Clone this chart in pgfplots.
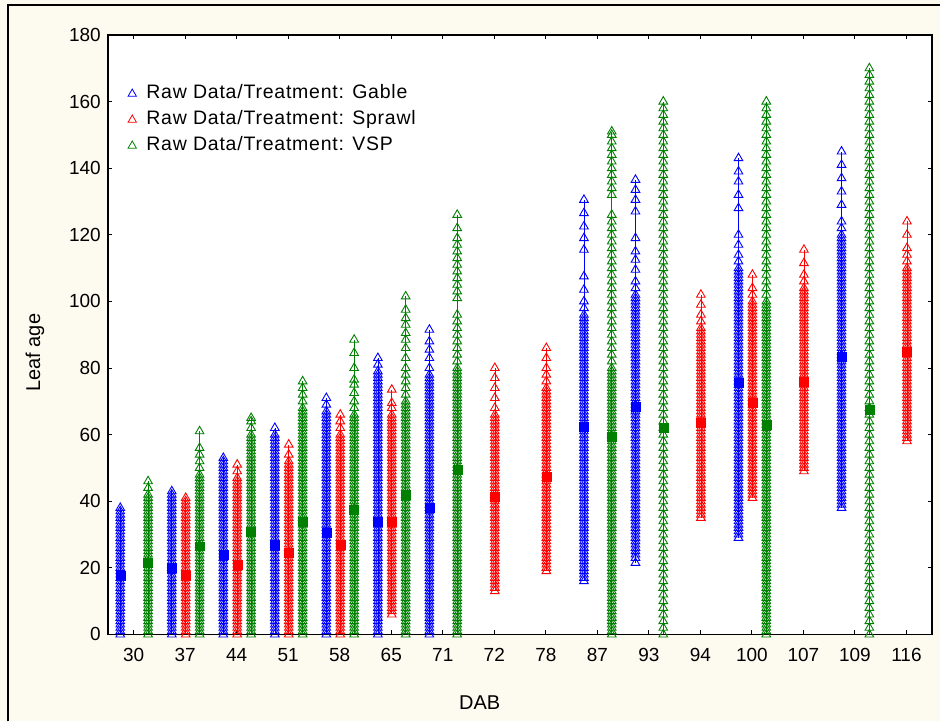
\documentclass[border=0pt]{standalone}
\usepackage{pgfplots}
\pgfplotsset{compat=1.18}
\usepackage{fontspec}
\setmainfont{Liberation Sans}
\definecolor{cream}{RGB}{253,250,240}
\definecolor{cb}{RGB}{0,0,255}
\definecolor{cr}{RGB}{255,0,0}
\definecolor{cg}{RGB}{0,128,0}
\newcommand\col[3]{\addplot[#1] table[header=false,row sep=\\,x expr=#2,y index=0]{#3\\};}
\pgfplotsset{
 colb/.style={cb, line width=0.6pt, mark=triangle, mark size=5pt, mark options={solid, line width=0.9pt}, forget plot},
 colr/.style={cr, line width=0.6pt, mark=triangle, mark size=5pt, mark options={solid, line width=0.9pt}, forget plot},
 colg/.style={cg, line width=0.6pt, mark=triangle, mark size=5pt, mark options={solid, line width=0.9pt}, forget plot},
}
\begin{document}
\begin{tikzpicture}
\fill[cream] (0,0) rectangle (941pt,722pt);
\draw[black, line width=1.6pt] (8pt,0pt) -- (8pt,717pt) -- (941pt,717pt);
\begin{axis}[
 at={(108pt,87pt)}, anchor=south west,
 scale only axis, width=825pt, height=600pt,
 xmin=-0.5, xmax=15.5, ymin=0, ymax=180,
 axis background/.style={fill=white},
 axis line style={line width=1.5pt},
 tick align=inside, major tick length=4pt,
 every tick/.style={black, line width=1pt},
 xtick={0,1,2,3,4,5,6,7,8,9,10,11,12,13,14,15},
 xticklabels={30,37,44,51,58,65,71,72,78,87,93,94,100,107,109,116},
 ytick={0,20,40,60,80,100,120,140,160,180},
 /pgf/number format/assume math mode=true,
 tick label style={font=\fontsize{19}{19}\selectfont},
 xticklabel style={anchor=north, inner sep=0pt, yshift=-14pt},
 yticklabel style={anchor=east, inner sep=0pt, xshift=-7pt},
 xlabel={DAB}, ylabel={Leaf age},
 label style={font=\fontsize{20}{20}\selectfont},
 xlabel style={at={(axis description cs:0.451,-0.113)}, anchor=center},
 ylabel style={at={(axis description cs:-0.0885,0.47)}, anchor=center},
 legend style={draw=none, fill=none, at={(axis description cs:0.0206,0.9213)}, anchor=north west,
   font={\fontsize{19.5}{19.5}\selectfont\addfontfeatures{LetterSpace=4}}, nodes={inner sep=1pt, text height=13pt, text depth=4pt}, row sep=7pt, column sep=9pt},
 legend cell align=left,
]
\addlegendimage{only marks, mark=triangle, cb, mark size=4.8pt, mark options={line width=0.8pt}}
\addlegendentry{Raw Data/Treatment: Gable}
\addlegendimage{only marks, mark=triangle, cr, mark size=4.8pt, mark options={line width=0.8pt}}
\addlegendentry{Raw Data/Treatment: Sprawl}
\addlegendimage{only marks, mark=triangle, cg, mark size=4.8pt, mark options={line width=0.8pt}}
\addlegendentry{Raw Data/Treatment: VSP}

% ---- Gable (blue)
\col{colb}{-0.26}{0\\1\\2\\3\\4\\5\\6\\7\\8\\9\\10\\11\\12\\13\\14\\15\\16\\17\\18\\19\\20\\21\\22\\23\\24\\25\\26\\27\\28\\29\\30\\31\\32\\33\\34\\35\\36\\37\\38}
\col{colb}{0.74}{0\\1\\2\\3\\4\\5\\6\\7\\8\\9\\10\\11\\12\\13\\14\\15\\16\\17\\18\\19\\20\\21\\22\\23\\24\\25\\26\\27\\28\\29\\30\\31\\32\\33\\34\\35\\36\\37\\38\\39\\40\\41\\42\\43}
\col{colb}{1.74}{0\\1\\2\\3\\4\\5\\6\\7\\8\\9\\10\\11\\12\\13\\14\\15\\16\\17\\18\\19\\20\\21\\22\\23\\24\\25\\26\\27\\28\\29\\30\\31\\32\\33\\34\\35\\36\\37\\38\\39\\40\\41\\42\\43\\44\\45\\46\\47\\48\\49\\50\\51\\52\\53}
\col{colb}{2.74}{0\\1\\2\\3\\4\\5\\6\\7\\8\\9\\10\\11\\12\\13\\14\\15\\16\\17\\18\\19\\20\\21\\22\\23\\24\\25\\26\\27\\28\\29\\30\\31\\32\\33\\34\\35\\36\\37\\38\\39\\40\\41\\42\\43\\44\\45\\46\\47\\48\\49\\50\\51\\52\\53\\54\\55\\56\\57\\58\\59\\60\\62}
\col{colb}{3.74}{0\\1\\2\\3\\4\\5\\6\\7\\8\\9\\10\\11\\12\\13\\14\\15\\16\\17\\18\\19\\20\\21\\22\\23\\24\\25\\26\\27\\28\\29\\30\\31\\32\\33\\34\\35\\36\\37\\38\\39\\40\\41\\42\\43\\44\\45\\46\\47\\48\\49\\50\\51\\52\\53\\54\\55\\56\\57\\58\\59\\60\\61\\62\\63\\64\\65\\66\\67\\69\\71}
\col{colb}{4.74}{0\\1\\2\\3\\4\\5\\6\\7\\8\\9\\10\\11\\12\\13\\14\\15\\16\\17\\18\\19\\20\\21\\22\\23\\24\\25\\26\\27\\28\\29\\30\\31\\32\\33\\34\\35\\36\\37\\38\\39\\40\\41\\42\\43\\44\\45\\46\\47\\48\\49\\50\\51\\52\\53\\54\\55\\56\\57\\58\\59\\60\\61\\62\\63\\64\\65\\66\\67\\68\\69\\70\\71\\72\\73\\74\\75\\76\\77\\78\\79\\81\\83}
\col{colb}{5.74}{0\\1\\2\\3\\4\\5\\6\\7\\8\\9\\10\\11\\12\\13\\14\\15\\16\\17\\18\\19\\20\\21\\22\\23\\24\\25\\26\\27\\28\\29\\30\\31\\32\\33\\34\\35\\36\\37\\38\\39\\40\\41\\42\\43\\44\\45\\46\\47\\48\\49\\50\\51\\52\\53\\54\\55\\56\\57\\58\\59\\60\\61\\62\\63\\64\\65\\66\\67\\68\\69\\70\\71\\72\\73\\74\\75\\76\\77\\78\\80\\83\\85.5\\88\\91.5}
\col{colb}{8.74}{16\\17\\18\\19\\20\\21\\22\\23\\24\\25\\26\\27\\28\\29\\30\\31\\32\\33\\34\\35\\36\\37\\38\\39\\40\\41\\42\\43\\44\\45\\46\\47\\48\\49\\50\\51\\52\\53\\54\\55\\56\\57\\58\\59\\60\\61\\62\\63\\64\\65\\66\\67\\68\\69\\70\\71\\72\\73\\74\\75\\76\\77\\78\\79\\80\\81\\82\\83\\84\\85\\86\\87\\88\\89\\90\\91\\92\\93\\94\\95\\96\\98\\100\\103.5\\107.5\\115.5\\119\\122.5\\126.5\\130.5}
\col{colb}{9.74}{21.5\\23\\24\\25\\26\\27\\28\\29\\30\\31\\32\\33\\34\\35\\36\\37\\38\\39\\40\\41\\42\\43\\44\\45\\46\\47\\48\\49\\50\\51\\52\\53\\54\\55\\56\\57\\58\\59\\60\\61\\62\\63\\64\\65\\66\\67\\68\\69\\70\\71\\72\\73\\74\\75\\76\\77\\78\\79\\80\\81\\82\\83\\84\\85\\86\\87\\88\\89\\90\\91\\92\\93\\94\\95\\96\\97\\98\\99\\100\\101\\102\\104\\106\\109.5\\112.5\\115\\119\\127\\130.5\\133.5\\136.5}
\col{colb}{11.74}{29\\30\\31\\32\\33\\34\\35\\36\\37\\38\\39\\40\\41\\42\\43\\44\\45\\46\\47\\48\\49\\50\\51\\52\\53\\54\\55\\56\\57\\58\\59\\60\\61\\62\\63\\64\\65\\66\\67\\68\\69\\70\\71\\72\\73\\74\\75\\76\\77\\78\\79\\80\\81\\82\\83\\84\\85\\86\\87\\88\\89\\90\\91\\92\\93\\94\\95\\96\\97\\98\\99\\100\\101\\102\\103\\104\\105\\106\\107\\108\\109\\110\\112\\114\\117\\120\\128\\132\\136\\139\\143}
\col{colb}{13.74}{38\\39\\40\\41\\42\\43\\44\\45\\46\\47\\48\\49\\50\\51\\52\\53\\54\\55\\56\\57\\58\\59\\60\\61\\62\\63\\64\\65\\66\\67\\68\\69\\70\\71\\72\\73\\74\\75\\76\\77\\78\\79\\80\\81\\82\\83\\84\\85\\86\\87\\88\\89\\90\\91\\92\\93\\94\\95\\96\\97\\98\\99\\100\\101\\102\\103\\104\\105\\106\\107\\108\\109\\110\\111\\112\\113\\114\\115\\116\\117\\118\\119\\120\\122\\124\\129\\133\\137\\141\\145}

% ---- Sprawl (red)
\col{colr}{1.01}{0\\1\\2\\3\\4\\5\\6\\7\\8\\9\\10\\11\\12\\13\\14\\15\\16\\17\\18\\19\\20\\21\\22\\23\\24\\25\\26\\27\\28\\29\\30\\31\\32\\33\\34\\35\\36\\37\\38\\39\\40\\41}
\col{colr}{2.01}{0\\1\\2\\3\\4\\5\\6\\7\\8\\9\\10\\11\\12\\13\\14\\15\\16\\17\\18\\19\\20\\21\\22\\23\\24\\25\\26\\27\\28\\29\\30\\31\\32\\33\\34\\35\\36\\37\\38\\39\\40\\41\\42\\43\\44\\45\\46\\47\\49\\51}
\col{colr}{3.01}{0\\1\\2\\3\\4\\5\\6\\7\\8\\9\\10\\11\\12\\13\\14\\15\\16\\17\\18\\19\\20\\21\\22\\23\\24\\25\\26\\27\\28\\29\\30\\31\\32\\33\\34\\35\\36\\37\\38\\39\\40\\41\\42\\43\\44\\45\\46\\47\\48\\49\\50\\51\\52\\54\\57}
\col{colr}{4.01}{0\\1\\2\\3\\4\\5\\6\\7\\8\\9\\10\\11\\12\\13\\14\\15\\16\\17\\18\\19\\20\\21\\22\\23\\24\\25\\26\\27\\28\\29\\30\\31\\32\\33\\34\\35\\36\\37\\38\\39\\40\\41\\42\\43\\44\\45\\46\\47\\48\\49\\50\\51\\52\\53\\54\\55\\56\\57\\58\\59\\60\\62\\64\\66}
\col{colr}{5.01}{6\\7\\8\\9\\10\\11\\12\\13\\14\\15\\16\\17\\18\\19\\20\\21\\22\\23\\24\\25\\26\\27\\28\\29\\30\\31\\32\\33\\34\\35\\36\\37\\38\\39\\40\\41\\42\\43\\44\\45\\46\\47\\48\\49\\50\\51\\52\\53\\54\\55\\56\\57\\58\\59\\60\\61\\62\\63\\64\\65\\66\\68\\69.5\\73.5}
\col{colr}{7.01}{13\\14\\15\\16\\17\\18\\19\\20\\21\\22\\23\\24\\25\\26\\27\\28\\29\\30\\31\\32\\33\\34\\35\\36\\37\\38\\39\\40\\41\\42\\43\\44\\45\\46\\47\\48\\49\\50\\51\\52\\53\\54\\55\\56\\57\\58\\59\\60\\61\\62\\63\\64\\65\\66\\68\\71\\74\\77\\80}
\col{colr}{8.01}{19\\20\\21\\22\\23\\24\\25\\26\\27\\28\\29\\30\\31\\32\\33\\34\\35\\36\\37\\38\\39\\40\\41\\42\\43\\44\\45\\46\\47\\48\\49\\50\\51\\52\\53\\54\\55\\56\\57\\58\\59\\60\\61\\62\\63\\64\\65\\66\\67\\68\\69\\70\\71\\72\\73\\74\\76\\78\\80\\83\\86}
\col{colr}{11.01}{35\\36\\37\\38\\39\\40\\41\\42\\43\\44\\45\\46\\47\\48\\49\\50\\51\\52\\53\\54\\55\\56\\57\\58\\59\\60\\61\\62\\63\\64\\65\\66\\67\\68\\69\\70\\71\\72\\73\\74\\75\\76\\77\\78\\79\\80\\81\\82\\83\\84\\85\\86\\87\\88\\89\\90\\91\\92\\94\\96\\99\\102}
\col{colr}{12.01}{41\\42\\43\\44\\45\\46\\47\\48\\49\\50\\51\\52\\53\\54\\55\\56\\57\\58\\59\\60\\61\\62\\63\\64\\65\\66\\67\\68\\69\\70\\71\\72\\73\\74\\75\\76\\77\\78\\79\\80\\81\\82\\83\\84\\85\\86\\87\\88\\89\\90\\91\\92\\93\\94\\95\\96\\97\\98\\99\\100\\102\\104\\108}
\col{colr}{13.01}{49\\50\\51\\52\\53\\54\\55\\56\\57\\58\\59\\60\\61\\62\\63\\64\\65\\66\\67\\68\\69\\70\\71\\72\\73\\74\\75\\76\\77\\78\\79\\80\\81\\82\\83\\84\\85\\86\\87\\88\\89\\90\\91\\92\\93\\94\\95\\96\\97\\98\\99\\100\\101\\102\\103\\104\\106\\108\\111.5\\115.5}
\col{colr}{15.01}{58\\59\\60\\61\\62\\63\\64\\65\\66\\67\\68\\69\\70\\71\\72\\73\\74\\75\\76\\77\\78\\79\\80\\81\\82\\83\\84\\85\\86\\87\\88\\89\\90\\91\\92\\93\\94\\95\\96\\97\\98\\99\\100\\101\\102\\103\\104\\105\\106\\107\\108\\109\\110\\112\\114\\116\\120\\124}

% ---- VSP (green)
\col{colg}{0.28}{0\\1\\2\\3\\4\\5\\6\\7\\8\\9\\10\\11\\12\\13\\14\\15\\16\\17\\18\\19\\20\\21\\22\\23\\24\\25\\26\\27\\28\\29\\30\\31\\32\\33\\34\\35\\36\\37\\38\\39\\40\\41\\42\\44\\46}
\col{colg}{1.28}{0\\1\\2\\3\\4\\5\\6\\7\\8\\9\\10\\11\\12\\13\\14\\15\\16\\17\\18\\19\\20\\21\\22\\23\\24\\25\\26\\27\\28\\29\\30\\31\\32\\33\\34\\35\\36\\37\\38\\39\\40\\41\\42\\43\\44\\45\\46\\47\\48\\50\\52\\54\\56\\61}
\col{colg}{2.28}{0\\1\\2\\3\\4\\5\\6\\7\\8\\9\\10\\11\\12\\13\\14\\15\\16\\17\\18\\19\\20\\21\\22\\23\\24\\25\\26\\27\\28\\29\\30\\31\\32\\33\\34\\35\\36\\37\\38\\39\\40\\41\\42\\43\\44\\45\\46\\47\\48\\49\\50\\51\\52\\53\\54\\55\\56\\57\\58\\59\\60\\62\\64\\65}
\col{colg}{3.28}{0\\1\\2\\3\\4\\5\\6\\7\\8\\9\\10\\11\\12\\13\\14\\15\\16\\17\\18\\19\\20\\21\\22\\23\\24\\25\\26\\27\\28\\29\\30\\31\\32\\33\\34\\35\\36\\37\\38\\39\\40\\41\\42\\43\\44\\45\\46\\47\\48\\49\\50\\51\\52\\53\\54\\55\\56\\57\\58\\59\\60\\61\\62\\63\\64\\65\\66\\67\\68\\70\\72\\74\\76}
\col{colg}{4.28}{0\\1\\2\\3\\4\\5\\6\\7\\8\\9\\10\\11\\12\\13\\14\\15\\16\\17\\18\\19\\20\\21\\22\\23\\24\\25\\26\\27\\28\\29\\30\\31\\32\\33\\34\\35\\36\\37\\38\\39\\40\\41\\42\\43\\44\\45\\46\\47\\48\\49\\50\\51\\52\\53\\54\\55\\56\\57\\58\\59\\60\\61\\62\\63\\64\\65\\66\\68\\70\\72.5\\75\\76.5\\80\\84.5\\88.5}
\col{colg}{5.28}{0\\1\\2\\3\\4\\5\\6\\7\\8\\9\\10\\11\\12\\13\\14\\15\\16\\17\\18\\19\\20\\21\\22\\23\\24\\25\\26\\27\\28\\29\\30\\31\\32\\33\\34\\35\\36\\37\\38\\39\\40\\41\\42\\43\\44\\45\\46\\47\\48\\49\\50\\51\\52\\53\\54\\55\\56\\57\\58\\59\\60\\61\\62\\63\\64\\65\\66\\67\\68\\69\\70\\72\\74\\76\\78\\80\\83\\86\\88.5\\90.5\\93\\95\\97.5\\101.5}
\col{colg}{6.28}{0\\1\\2\\3\\4\\5\\6\\7\\8\\9\\10\\11\\12\\13\\14\\15\\16\\17\\18\\19\\20\\21\\22\\23\\24\\25\\26\\27\\28\\29\\30\\31\\32\\33\\34\\35\\36\\37\\38\\39\\40\\41\\42\\43\\44\\45\\46\\47\\48\\49\\50\\51\\52\\53\\54\\55\\56\\57\\58\\59\\60\\61\\62\\63\\64\\65\\66\\67\\68\\69\\70\\71\\72\\73\\74\\75\\76\\77\\78\\79\\80\\82\\84\\86\\88\\90\\92\\94\\96\\101\\103\\105\\107\\109\\111\\113\\115\\117\\119\\122\\126}
\col{colg}{9.28}{0\\1\\2\\3\\4\\5\\6\\7\\8\\9\\10\\11\\12\\13\\14\\15\\16\\17\\18\\19\\20\\21\\22\\23\\24\\25\\26\\27\\28\\29\\30\\31\\32\\33\\34\\35\\36\\37\\38\\39\\40\\41\\42\\43\\44\\45\\46\\47\\48\\49\\50\\51\\52\\53\\54\\55\\56\\57\\58\\59\\60\\61\\62\\63\\64\\65\\66\\67\\68\\69\\70\\71\\72\\73\\74\\75\\76\\77\\78\\79\\80\\82\\84\\86\\88\\90\\92\\94\\96\\98\\100\\102\\104\\106\\108\\110\\112\\114\\116\\118\\120\\122\\124\\126\\132\\134\\136\\138\\140\\142\\144\\146\\148\\150\\151}
\col{colg}{10.28}{0\\2\\4\\6\\8\\10\\12\\14\\16\\18\\20\\22\\24\\26\\28\\30\\32\\34\\36\\38\\40\\42\\44\\46\\48\\50\\52\\54\\56\\58\\60\\62\\64\\66\\68\\70\\72\\74\\76\\78\\80\\82\\84\\86\\88\\90\\92\\94\\96\\98\\100\\102\\104\\106\\108\\110\\112\\114\\116\\118\\120\\122\\124\\126\\128\\130\\132\\134\\136\\138\\140\\142\\144\\146\\148\\150\\152\\154\\156\\158\\160}
\col{colg}{12.28}{0\\1\\2\\3\\4\\5\\6\\7\\8\\9\\10\\11\\12\\13\\14\\15\\16\\17\\18\\19\\20\\21\\22\\23\\24\\25\\26\\27\\28\\29\\30\\31\\32\\33\\34\\35\\36\\37\\38\\39\\40\\41\\42\\43\\44\\45\\46\\47\\48\\49\\50\\51\\52\\53\\54\\55\\56\\57\\58\\59\\60\\61\\62\\63\\64\\65\\66\\67\\68\\69\\70\\71\\72\\73\\74\\75\\76\\77\\78\\79\\80\\81\\82\\83\\84\\85\\86\\87\\88\\89\\90\\91\\92\\93\\94\\95\\96\\97\\98\\99\\100\\102\\104\\106\\108\\110\\112\\114\\116\\118\\120\\122\\124\\126\\128\\130\\132\\134\\136\\138\\140\\142\\144\\146\\148\\150\\152\\154\\156\\158\\160}
\col{colg}{14.28}{0\\2\\4\\6\\8\\10\\12\\14\\16\\18\\20\\22\\24\\26\\28\\30\\32\\34\\36\\38\\40\\42\\44\\46\\48\\50\\52\\54\\56\\58\\60\\62\\64\\66\\68\\70\\72\\74\\76\\78\\80\\82\\84\\86\\88\\90\\92\\94\\96\\98\\100\\102\\104\\106\\108\\110\\112\\114\\116\\118\\120\\122\\124\\126\\128\\130\\132\\134\\136\\138\\140\\142\\144\\146\\148\\150\\152\\154\\156\\158\\160\\162\\164\\166\\168\\170}

% ---- means
\addplot[only marks, mark=square*, mark size=4.5pt, cb, forget plot] coordinates {(-0.26,17.5)(0.74,20)(1.74,24)(2.74,27)(3.74,30.5)(4.74,34)(5.74,38)(8.74,62.5)(9.74,68.5)(11.74,75.5)(13.74,83.5)};
\addplot[only marks, mark=square*, mark size=4.5pt, cr, forget plot] coordinates {(1.01,17.5)(2.01,21)(3.01,24.5)(4.01,27)(5.01,34)(7.01,41.5)(8.01,47.5)(11.01,63.5)(12.01,69.5)(13.01,76)(15.01,85)};
\addplot[only marks, mark=square*, mark size=4.5pt, cg, forget plot] coordinates {(0.28,21.5)(1.28,26.5)(2.28,31)(3.28,34)(4.28,37.5)(5.28,42)(6.28,49.5)(9.28,59.5)(10.28,62)(12.28,63)(14.28,67.5)};
\end{axis}
\end{tikzpicture}
\end{document}
